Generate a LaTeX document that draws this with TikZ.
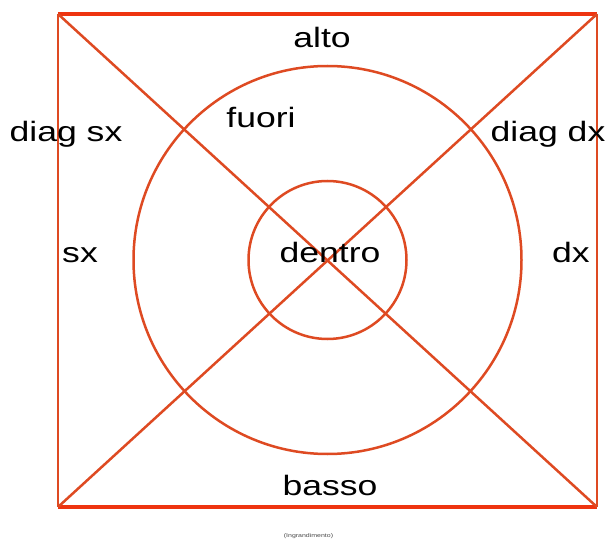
\documentclass[tikz,border=0pt]{standalone}
\usepackage{fontspec}
\newfontfamily\lblfont[FakeStretch=1.27]{Liberation Sans}
\usetikzlibrary{positioning}
\definecolor{edgered}{RGB}{238,52,16}
\definecolor{linered}{RGB}{222,74,34}

\begin{document}
\begin{tikzpicture}[x=1pt, y=-1pt,
  lbl/.style={font=\lblfont\fontsize{28}{30}\selectfont, anchor=base, inner sep=0pt},
  note/.style={font=\lblfont\fontsize{5.5}{6}\selectfont, text=black!70, inner sep=0pt}]
\useasboundingbox (0,0) rectangle (608,540);
% corners of the frame
\coordinate (nw) at (58,14);
\coordinate (ne) at (597,14);
\coordinate (sw) at (58,507);
\coordinate (se) at (597,507);
\coordinate (c) at (327.5,260);
% frame
\draw[linered, line width=2pt] (nw) -- (sw) (ne) -- (se);
\draw[edgered, line width=4pt] (nw) -- (ne) (sw) -- (se);
% diagonals and circles
\draw[linered, line width=2.5pt] (nw) -- (se) (ne) -- (sw);
\draw[linered, line width=2.5pt] (c) circle[radius=194];
\draw[linered, line width=2.5pt] (c) circle[radius=79];
% labels
\node[lbl] (alto) at (322,48) {alto};
\node[lbl] (fuori) at (261,128) {fuori};
\node[lbl] (diagsx) at (66,142) {diag sx};
\node[lbl] (diagdx) at (548,142) {diag dx};
\node[lbl] (sx) at (80,263) {sx};
\node[lbl] (dx) at (571,263) {dx};
\node[lbl] (dentro) at (330,263) {dentro};
\node[lbl] (basso) at (330,495) {basso};
\node[note] (ingr) at (308.5,536.5) {(Ingrandimento)};
\end{tikzpicture}
\end{document}
